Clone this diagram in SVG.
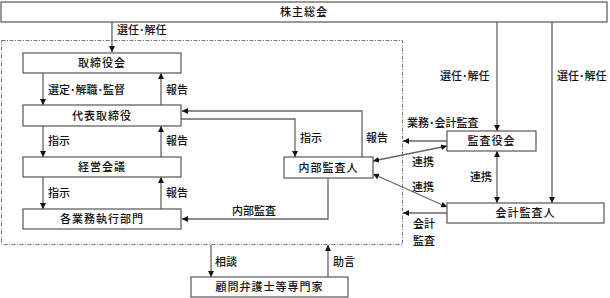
<svg xmlns="http://www.w3.org/2000/svg" width="610" height="298" viewBox="0 0 610 298">
<style>
.box{fill:#fff;stroke:#555;stroke-width:1.2}
.t{font-family:"Noto Sans CJK JP","Noto Sans CJK SC",sans-serif;font-size:11px;fill:#111;font-weight:500}
.c{text-anchor:middle;letter-spacing:1px}
.ln{fill:none;stroke:#666;stroke-width:1.3}
.a{marker-end:url(#ah)}
.b{marker-start:url(#ahs);marker-end:url(#ah)}
</style>
<defs>
<marker id="ah" viewBox="0 0 8 8" refX="8" refY="4" markerWidth="6" markerHeight="6" markerUnits="userSpaceOnUse" orient="auto"><path d="M0,0L8,4L0,8z" fill="#111"/></marker>
<marker id="ahs" viewBox="0 0 8 8" refX="0" refY="4" markerWidth="6" markerHeight="6" markerUnits="userSpaceOnUse" orient="auto"><path d="M8,0L0,4L8,8z" fill="#111"/></marker>
</defs>
<rect x="1.5" y="40.5" width="401" height="204" fill="none" stroke="#777" stroke-width="1" stroke-dasharray="4,1.5,1,1.5"/>
<g id="connectors">
<path class="ln a" d="M112,22V52"/>
<path class="ln a" d="M497,22V131"/>
<path class="ln a" d="M552,22V203"/>
<path class="ln a" d="M43,73V105"/>
<path class="ln a" d="M161,105V73"/>
<path class="ln a" d="M43,126V157"/>
<path class="ln a" d="M161,157V126"/>
<path class="ln a" d="M43,177V209"/>
<path class="ln a" d="M161,209V177"/>
<path class="ln a" d="M362,157V111H182"/>
<path class="ln a" d="M181,119H295V157"/>
<path class="ln a" d="M328,178V219H182"/>
<path class="ln a" d="M447,141H403"/>
<path class="ln b" d="M373,161L447,146"/>
<path class="ln b" d="M373,174L447,207"/>
<path class="ln b" d="M497,151V203"/>
<path class="ln a" d="M447,213H403"/>
<path class="ln a" d="M211,245V277"/>
<path class="ln a" d="M328,277V245"/>
<g class="t">
<text x="117" y="34">選任･解任</text>
<text x="48" y="94">選定･解職･監督</text>
<text x="166" y="94">報告</text>
<text x="48" y="145">指示</text>
<text x="166" y="145">報告</text>
<text x="48" y="197">指示</text>
<text x="166" y="197">報告</text>
<text x="300" y="142">指示</text>
<text x="366" y="142">報告</text>
<text x="232" y="215">内部監査</text>
<text x="440" y="80">選任･解任</text>
<text x="557" y="80">選任･解任</text>
<text x="407" y="127">業務･会計監査</text>
<text x="412" y="166">連携</text>
<text x="412" y="191">連携</text>
<text x="470" y="181">連携</text>
<text x="413" y="228">会計</text>
<text x="413" y="245">監査</text>
<text x="215" y="266">相談</text>
<text x="333" y="266">助言</text>
</g>
</g>
<g id="n-shareholders"><rect class="box" x="1" y="2" width="606" height="20"/><text class="t c" x="304" y="16">株主総会</text></g>
<g id="n-board"><rect class="box" x="23" y="53" width="158" height="20"/><text class="t c" x="102" y="67">取締役会</text></g>
<g id="n-rep"><rect class="box" x="23" y="105" width="158" height="21"/><text class="t c" x="102" y="119.5">代表取締役</text></g>
<g id="n-mgmt"><rect class="box" x="23" y="157" width="158" height="20"/><text class="t c" x="102" y="171">経営会議</text></g>
<g id="n-depts"><rect class="box" x="23" y="209" width="158" height="20"/><text class="t c" x="102" y="223">各業務執行部門</text></g>
<g id="n-internal"><rect class="box" x="284" y="157" width="89" height="21"/><text class="t c" x="328.5" y="171.5">内部監査人</text></g>
<g id="n-auditboard"><rect class="box" x="447" y="131" width="89" height="20"/><text class="t c" x="491.5" y="145">監査役会</text></g>
<g id="n-accountant"><rect class="box" x="447" y="203" width="157" height="20"/><text class="t c" x="525.5" y="217">会計監査人</text></g>
<g id="n-advisor"><rect class="box" x="191" y="277" width="157" height="20"/><text class="t c" x="269.5" y="291">顧問弁護士等専門家</text></g>
</svg>
